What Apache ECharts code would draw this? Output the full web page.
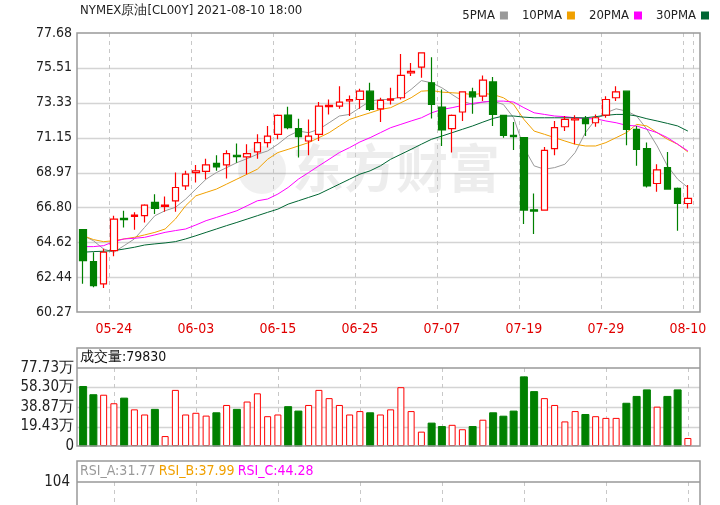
<!DOCTYPE html>
<html><head><meta charset="utf-8">
<script src="https://cdn.jsdelivr.net/npm/echarts@6/dist/echarts.min.js"></script>
<style>html,body{margin:0;padding:0;background:#fff}#c{width:720px;height:505px}</style>
</head><body><div id="c"></div>
<script>
const dates=['05-19','05-20','05-21','05-24','05-25','05-26','05-27','05-28','05-31','06-01','06-02','06-03','06-04','06-07','06-08','06-09','06-10','06-11','06-14','06-15','06-16','06-17','06-18','06-21','06-22','06-23','06-24','06-25','06-28','06-29','06-30','07-01','07-02','07-05','07-06','07-07','07-08','07-09','07-12','07-13','07-14','07-15','07-16','07-19','07-20','07-21','07-22','07-23','07-26','07-27','07-28','07-29','07-30','08-02','08-03','08-04','08-05','08-06','08-09','08-10'];
const shownDates=['05-24','06-03','06-15','06-25','07-07','07-19','07-29','08-10'];
const open=[65.41,63.42,62.03,64.10,66.11,66.24,66.28,67.11,66.86,67.21,68.14,68.97,69.04,69.55,69.45,70.05,69.95,70.26,70.84,71.36,72.56,71.71,70.94,71.36,73.08,73.12,73.45,73.53,74.05,72.95,73.49,73.64,75.19,75.55,74.57,73.06,71.71,72.75,74.00,73.74,74.63,72.54,71.29,71.15,66.65,66.63,70.47,71.83,72.25,72.33,72.08,72.56,73.64,74.05,71.67,70.47,68.29,69.28,67.98,67.04];
const close=[63.48,61.92,64.00,66.07,66.03,66.32,66.94,66.73,66.94,68.04,68.87,69.08,69.45,69.32,70.15,69.97,70.15,70.84,71.25,72.54,71.77,71.21,71.25,73.12,73.16,73.37,73.53,74.05,72.91,73.47,73.57,75.03,75.28,76.44,73.22,71.63,72.54,74.00,73.70,74.74,72.60,71.29,71.21,66.63,66.57,70.36,71.77,72.29,72.33,72.02,72.39,73.53,74.00,71.67,70.42,68.14,69.14,67.94,67.04,67.36];
const low=[62.03,61.82,61.76,63.75,65.55,65.41,65.86,66.38,66.53,66.53,67.89,68.35,68.56,69.08,68.60,69.59,68.87,69.84,70.53,71.05,71.67,69.91,70.05,70.94,72.60,72.95,72.50,72.95,72.81,72.12,73.22,73.53,74.99,74.88,72.35,70.63,70.22,72.19,72.64,73.43,71.88,71.15,70.38,65.76,65.14,66.59,70.05,71.56,70.74,71.25,71.83,72.39,73.43,70.67,69.39,68.04,67.77,67.94,65.34,66.73];
const high=[65.45,64.00,64.21,66.28,66.59,66.49,67.00,67.62,67.48,68.97,69.08,69.45,69.84,70.05,70.36,70.78,70.74,71.36,71.88,72.60,73.08,72.33,72.29,73.37,73.53,74.36,73.78,74.20,74.57,73.64,74.26,76.37,75.81,76.44,76.17,74.16,72.60,74.05,74.26,75.03,74.94,72.54,72.12,71.15,67.67,70.57,72.19,72.50,72.54,72.50,72.60,73.74,74.36,74.05,71.88,70.84,69.49,70.26,68.04,68.19];
const volume=[59.3,51.1,51.1,42.6,47.7,36.5,31.4,36.5,9.9,55.9,31.4,33.1,30.3,33.1,40.9,36.5,44.3,52.5,29.7,31.4,39.2,34.8,40.9,55.9,47.7,40.9,31.4,34.8,33.1,31.4,36.5,58.6,34.8,14.3,22.8,19.4,21.1,16.7,19.4,26.2,33.1,29.7,34.8,68.9,54.2,47.7,40.9,24.5,34.8,31.4,29.7,28.0,28.0,42.6,49.4,55.9,39.2,49.4,55.9,7.98];
const ma5=[65.03,64.72,64.20,64.00,64.41,64.83,65.55,66.28,66.59,66.80,67.31,67.94,68.56,68.97,69.28,69.59,69.84,70.11,70.32,70.74,71.25,71.56,71.46,71.67,72.08,72.50,72.60,73.02,73.43,73.53,73.53,73.70,74.16,74.71,74.57,74.26,73.84,73.43,73.22,73.37,73.43,73.22,72.39,70.53,69.39,69.18,69.28,69.49,70.22,71.46,72.29,72.70,72.95,72.81,72.50,71.67,70.63,69.39,68.56,68.04];
const ma10=[65.03,64.79,64.66,64.72,64.83,64.93,65.08,65.24,65.45,66.07,66.90,67.52,67.73,67.94,68.25,68.56,68.87,69.18,69.80,70.22,70.42,70.63,70.84,71.15,71.46,71.88,72.29,72.50,72.70,72.91,73.02,73.33,73.64,74.05,74.09,73.99,73.95,73.91,73.84,73.91,73.84,73.64,73.22,72.29,71.56,71.36,71.15,70.94,70.74,70.63,70.63,70.84,71.15,71.46,71.98,71.88,71.46,71.05,70.74,70.26];
const ma20=[64.35,64.35,64.41,64.66,64.83,64.87,64.93,65.08,65.24,65.35,65.45,65.70,65.97,66.17,66.38,66.59,66.90,67.21,67.32,67.63,68.04,68.56,68.97,69.39,69.80,70.22,70.53,70.88,71.15,71.46,71.77,71.98,72.19,72.39,72.70,72.91,73.02,73.16,73.29,73.37,73.43,73.43,73.37,73.02,72.70,72.60,72.50,72.46,72.39,72.33,72.33,72.19,72.08,71.92,71.88,71.67,71.46,71.15,70.74,70.32];
const ma30=[64.00,64.04,64.06,64.10,64.20,64.31,64.45,64.52,64.58,64.66,64.83,65.03,65.24,65.45,65.66,65.86,66.07,66.28,66.49,66.69,67.00,67.21,67.42,67.63,67.94,68.25,68.56,68.87,69.08,69.39,69.80,70.11,70.42,70.74,71.05,71.25,71.46,71.67,71.88,72.12,72.35,72.50,72.50,72.43,72.39,72.39,72.39,72.39,72.39,72.39,72.46,72.54,72.60,72.60,72.50,72.33,72.19,72.04,71.88,71.56];
const priceTicks=[60.27,62.44,64.62,66.80,68.97,71.15,73.33,75.51,77.68];
const volTicks=[0,19.43,38.87,58.30,77.73];

const FONT='"Liberation Sans Narrow","DejaVu Sans Condensed","Liberation Sans",sans-serif';
const RED='#ff0000', GREEN='#008000';
const isShown=(i)=>shownDates.indexOf(dates[i])>=0;
const ohlc=dates.map((d,i)=>[open[i],close[i],low[i],high[i]]);
const volData=volume.map((v,i)=>({value:v,itemStyle: close[i]>=open[i]?{color:'#fff',borderColor:RED,borderWidth:1}:{color:GREEN,borderColor:GREEN}}));
const ma=(name,data,color)=>({name,type:'line',data,xAxisIndex:0,yAxisIndex:0,symbol:'none',smooth:false,lineStyle:{width:1,color},itemStyle:{color},z:3});
const xBase=(gi,showLabel)=>({type:'category',gridIndex:gi,data:dates,boundaryGap:true,
  axisLine:{show:false},axisTick:{show:false},
  axisLabel:{show:showLabel,interval:(i)=>isShown(i),color:'#e00000',fontFamily:FONT,fontSize:14,margin:10},
  splitLine:{show:showLabel,interval:(i)=>isShown(i),lineStyle:{color:'#c8c8c8',type:[4,4],width:1}}});

const frame=[
    {type:'rect',shape:{x:77,y:33,width:623,height:279},style:{fill:'none',stroke:'#999',lineWidth:1.5},z:10,silent:true},
    {type:'rect',shape:{x:77,y:348,width:623,height:98},style:{fill:'none',stroke:'#999',lineWidth:1.5},z:10,silent:true},
    {type:'line',shape:{x1:77,y1:368,x2:700,y2:368},style:{stroke:'#999',lineWidth:1.5},z:10,silent:true},
    {type:'rect',shape:{x:77,y:461,width:623,height:80},style:{fill:'none',stroke:'#999',lineWidth:1.5},z:10,silent:true},
    {type:'line',shape:{x1:77,y1:482,x2:700,y2:482},style:{stroke:'#999',lineWidth:1.5},z:10,silent:true},
    {type:'text',left:80,top:4,style:{text:'NYMEX原油[CL00Y] 2021-08-10 18:00',font:'13px '+FONT,fill:'#222'},z:10},
    {type:'text',left:80,top:350,style:{text:'成交量:79830',font:'14px '+FONT,fill:'#111'},z:10},
    {type:'text',left:80,top:464,style:{rich:{a:{fill:'#999',font:'14px '+FONT},b:{fill:'#f0a000',font:'14px '+FONT},c:{fill:'#ff00ff',font:'14px '+FONT}},text:'{a|RSI_A:31.77} {b|RSI_B:37.99} {c|RSI_C:44.28}'},z:10},
    {type:'text',left:292,top:142,style:{text:'东方财富',font:'bold 52px "Noto Sans CJK SC",sans-serif',fill:'rgba(0,0,0,0.07)'},z:0,silent:true},
    {type:'circle',shape:{cx:262,cy:170,r:24},style:{fill:'rgba(0,0,0,0.06)'},z:0,silent:true}
];

const chart=echarts.init(document.getElementById('c'),null,{renderer:'canvas'});
chart.setOption({
  animation:false,
  textStyle:{fontFamily:FONT},
  legend:{data:['5PMA','10PMA','20PMA','30PMA'],top:4,right:6,align:'right',icon:'rect',itemWidth:8,itemHeight:8,itemGap:14,
    textStyle:{fontFamily:FONT,fontSize:13,color:'#222'}},
  grid:[{left:78,width:615,top:33,height:279},{left:78,width:615,top:368,height:78},{left:78,width:615,top:482,height:120}],
  xAxis:[xBase(0,true),xBase(1,false),xBase(2,false)],
  yAxis:[
    {type:'value',gridIndex:0,min:60.27,max:77.68,splitLine:{show:false},axisLine:{show:false},axisTick:{show:false},
     axisLabel:{customValues:priceTicks,formatter:v=>v.toFixed(2),color:'#222',fontSize:14,fontFamily:FONT,margin:6}},
    {type:'value',gridIndex:1,min:0,max:77.73,splitLine:{show:false},axisLine:{show:false},axisTick:{show:false},
     axisLabel:{customValues:volTicks,formatter:v=>v===0?'0':v.toFixed(2)+'万',color:'#222',fontSize:15,fontFamily:FONT,margin:4}},
    {type:'value',gridIndex:2,min:0,max:104,splitLine:{show:false},axisLine:{show:false},axisTick:{show:false},
     axisLabel:{customValues:[104],color:'#222',fontSize:15,fontFamily:FONT,margin:8}}
  ],
  graphic:frame,
  series:[
    {type:'candlestick',name:'K',data:ohlc,xAxisIndex:0,yAxisIndex:0,barWidth:7,
     itemStyle:{color:'#fff',color0:GREEN,borderColor:RED,borderColor0:GREEN,borderWidth:1.2},z:4},
    ma('5PMA',ma5,'#999999'),ma('10PMA',ma10,'#f0a000'),ma('20PMA',ma20,'#ff00ff'),ma('30PMA',ma30,'#006633'),
    {type:'bar',data:volData,xAxisIndex:1,yAxisIndex:1,barWidth:7,z:4}
  ]
});
// grid lines placed through the library's own axis scales
const gl=[];
priceTicks.slice(1,-1).forEach(t=>{const y=Math.round(chart.convertToPixel({yAxisIndex:0},t))+0.5;
  gl.push({type:'line',shape:{x1:77,y1:y,x2:700,y2:y},style:{stroke:'#d4d4d4',lineWidth:1.5},z:-1,silent:true});});
volTicks.slice(1,-1).forEach(t=>{const y=Math.round(chart.convertToPixel({yAxisIndex:1},t))+0.5;
  gl.push({type:'line',shape:{x1:77,y1:y,x2:700,y2:y},style:{stroke:'#d4d4d4',lineWidth:1.5},z:-1,silent:true});});
shownDates.forEach(d=>{const x=Math.round(chart.convertToPixel({xAxisIndex:1},d))+0.5;
  gl.push({type:'line',shape:{x1:x,y1:368,x2:x,y2:446},style:{stroke:'#c8c8c8',lineWidth:1,lineDash:[4,4]},z:-1,silent:true});
  gl.push({type:'line',shape:{x1:x,y1:482,x2:x,y2:505},style:{stroke:'#c8c8c8',lineWidth:1,lineDash:[4,4]},z:-1,silent:true});});
chart.setOption({graphic:frame.concat(gl)});
</script></body></html>
